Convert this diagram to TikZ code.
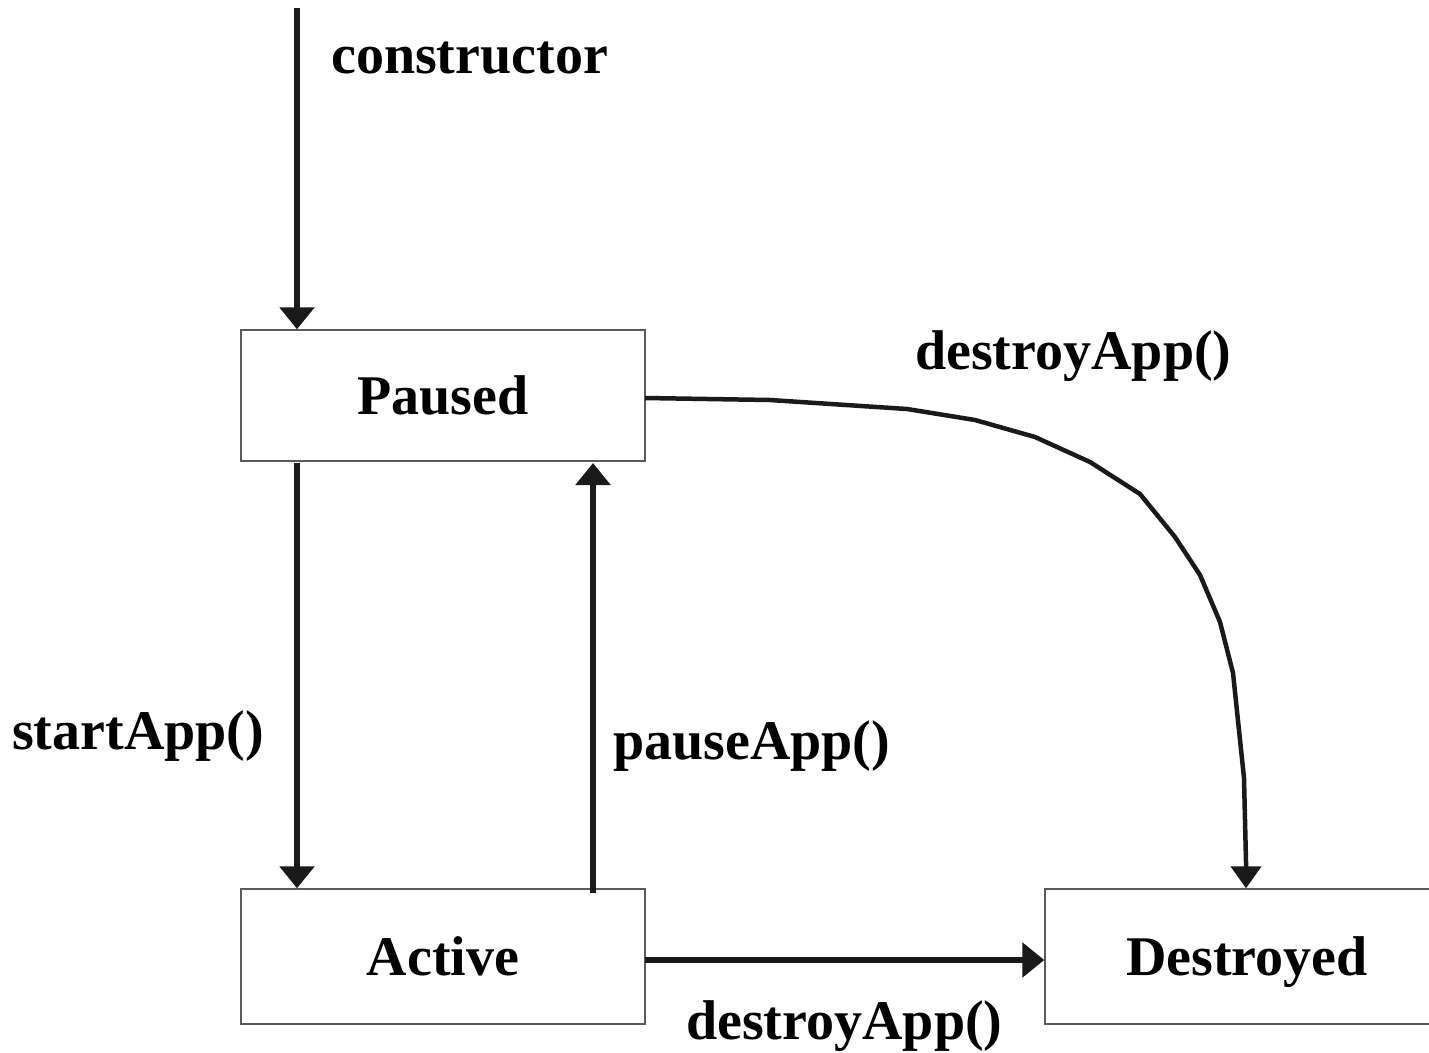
\documentclass[tikz,border=0pt]{standalone}
\usepackage{fontspec}
\setmainfont{Liberation Serif}
\usetikzlibrary{arrows.meta}
\definecolor{ink}{HTML}{1A1A1A}
\definecolor{frame}{HTML}{5A5A5A}
\begin{document}
\begin{tikzpicture}[x=1pt,y=-1pt,
  state/.style={draw=frame,line width=1.4pt,fill=white,minimum width=404pt,
    inner sep=0pt,text height=38pt,text depth=0pt,
    font=\fontsize{56}{60}\selectfont\bfseries},
  lbl/.style={anchor=base west,inner sep=0pt,
    font=\fontsize{56}{60}\selectfont\bfseries},
  trans/.style={draw=ink,line width=6pt,
    -{Triangle[width=34pt,length=22pt]}},
  curvetrans/.style={draw=ink,line width=4.5pt,line join=round,
    -{Triangle[width=30pt,length=22pt]}}]
\useasboundingbox (0,0) rectangle (1429,1052);
\begin{scope}
\clip (0,0) rectangle (1429,1052);

% states
\node[state,minimum height=131pt] (paused) at (443,395.5) {Paused};
\node[state,minimum height=135pt] (active) at (443,956.5) {Active};
\node[state,minimum height=135pt] (destroyed) at (1247,956.5) {Destroyed};

% entry point
\coordinate (entry) at (297,8);
\draw[trans] (entry) -- (entry |- paused.north);

% Paused -> Active
\coordinate (sa) at (297,463);
\draw[trans] (sa) -- (sa |- active.north);

% Active -> Paused
\coordinate (pa) at (593,893);
\draw[trans] (pa) -- (593,463);

% Active -> Destroyed
\coordinate (ad) at (645,960);
\draw[trans] (ad) -- (ad -| destroyed.west);

% Paused -> Destroyed
\coordinate (pd) at (645,398);
\coordinate (dk) at (1246,862);
\draw[curvetrans] (pd) -- (770,400) -- (907,409) -- (975,420) -- (1035,437)
  -- (1090,462) -- (1140,494) -- (1175,537) -- (1200,575) -- (1220,622)
  -- (1233,673) -- (1244,778) -- (dk) -- (dk |- destroyed.north);
\end{scope}

% transition labels
\node[lbl] (lconstr) at (331,73) {constructor};
\node[lbl] (ldestr1) at (915,369) {destroyApp()};
\node[lbl] (lstart) at (12,749) {startApp()};
\node[lbl] (lpause) at (613,759) {pauseApp()};
\node[lbl] (ldestr2) at (686,1039) {destroyApp()};
\end{tikzpicture}
\end{document}
